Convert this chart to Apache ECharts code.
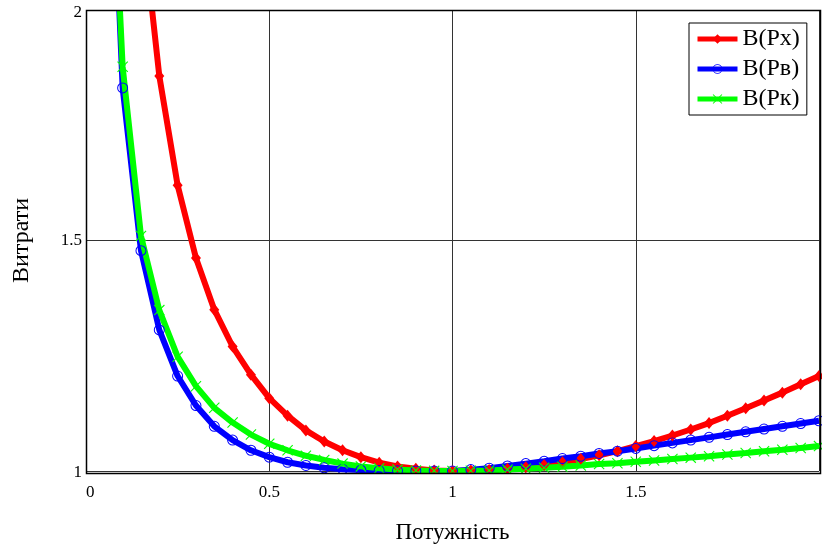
<!DOCTYPE html>
<html>
<head>
<meta charset="utf-8">
<script src="https://cdn.jsdelivr.net/npm/echarts@6/dist/echarts.min.js"></script>
<style>
  body { margin: 0; background: #fff; }
  #chart { width: 822px; height: 549px; }
</style>
</head>
<body>
<div id="chart"></div>
<script>
// потужність (відносна), крок 0.05
const power = [0.05, 0.1, 0.15, 0.2, 0.25, 0.3, 0.35, 0.4, 0.45, 0.5,
  0.55, 0.6, 0.65, 0.7, 0.75, 0.8, 0.85, 0.9, 0.95, 1.0,
  1.05, 1.1, 1.15, 1.2, 1.25, 1.3, 1.35, 1.4, 1.45, 1.5,
  1.55, 1.6, 1.65, 1.7, 1.75, 1.8, 1.85, 1.9, 1.95, 2.0];

const costX = [null, null, 2.22, 1.857, 1.62, 1.462, 1.35, 1.27, 1.209, 1.158,
  1.12, 1.088, 1.064, 1.045, 1.03, 1.018, 1.01, 1.005, 1.001, 1.0,
  1.001, 1.002, 1.005, 1.008, 1.013, 1.019, 1.026, 1.034, 1.043, 1.054,
  1.065, 1.077, 1.09, 1.104, 1.12, 1.136, 1.153, 1.17, 1.188, 1.206];

const costV = [2.75, 1.831, 1.478, 1.306, 1.206, 1.142, 1.097, 1.067, 1.045, 1.03,
  1.019, 1.012, 1.007, 1.004, 1.002, 1.001, 1.0005, 1.0002, 1.0, 1.0,
  1.003, 1.006, 1.011, 1.016, 1.021, 1.027, 1.032, 1.038, 1.043, 1.049,
  1.055, 1.061, 1.067, 1.073, 1.079, 1.085, 1.091, 1.097, 1.103, 1.109];

const costK = [2.71, 1.877, 1.51, 1.349, 1.248, 1.184, 1.137, 1.105, 1.079, 1.059,
  1.045, 1.033, 1.024, 1.016, 1.01, 1.006, 1.003, 1.001, 1.0003, 1.0,
  1.0005, 1.001, 1.003, 1.005, 1.007, 1.009, 1.012, 1.015, 1.017, 1.02,
  1.023, 1.026, 1.029, 1.032, 1.036, 1.039, 1.043, 1.046, 1.05, 1.054];

const names = ["В(Рх)", "В(Рв)", "В(Рк)"];
const font = "'Liberation Serif', 'DejaVu Serif', serif";

const ring = "path://M0,-5A5,5 0 1,1 0,5A5,5 0 1,1 0,-5ZM0,-4.1A4.1,4.1 0 1,0 0,4.1A4.1,4.1 0 1,0 0,-4.1Z";
const cross = "path://M0,0.7L0.7,0L5,4.3L9.3,0L10,0.7L5.7,5L10,9.3L9.3,10L5,5.7L0.7,10L0,9.3L4.3,5Z";

const pairs = (vals) => power.map((p, i) => [p, vals[i]]);

const lineSeries = (name, vals, color, symbol, size) => ({
  name,
  type: "line",
  data: pairs(vals),
  symbol,
  symbolSize: size,
  lineStyle: { width: 6, color },
  itemStyle: { color },
  emphasis: { disabled: true }
});

const chart = echarts.init(document.getElementById("chart"));
chart.setOption({
  animation: false,
  backgroundColor: "#fff",
  grid: { left: 86, right: 1, top: 10, bottom: 75 },
  legend: {
    orient: "vertical",
    left: 689,
    top: 23,
    padding: [4, 7, 4, 6],
    itemWidth: 40,
    itemHeight: 12,
    itemGap: 6,
    backgroundColor: "#fff",
    borderColor: "#000",
    borderWidth: 1,
    lineStyle: { width: 5 },
    textStyle: { fontFamily: font, fontSize: 24, color: "#000", lineHeight: 24 },
    data: names
  },
  xAxis: {
    type: "value",
    min: 0,
    max: 2,
    interval: 0.5,
    name: "Потужність",
    nameLocation: "middle",
    nameGap: 50,
    nameTextStyle: { fontFamily: font, fontSize: 23, color: "#000" },
    axisLine: { show: false },
    axisTick: { show: false },
    axisLabel: {
      margin: 13,
      fontFamily: font,
      fontSize: 17,
      color: "#000",
      alignMinLabel: "left",
      formatter: (v) => (v === 2 ? "" : String(v))
    },
    splitLine: { show: true, lineStyle: { color: "#333", width: 1 } }
  },
  yAxis: {
    type: "value",
    min: 1,
    max: 2,
    interval: 0.5,
    name: "Витрати",
    nameLocation: "middle",
    nameGap: 52,
    nameTextStyle: { fontFamily: font, fontSize: 24, color: "#000" },
    axisLine: { show: false },
    axisTick: { show: false },
    axisLabel: {
      margin: 4,
      fontFamily: font,
      fontSize: 17,
      color: "#000",
      formatter: (v) => (v === 2 ? "{t|2}" : v === 1 ? "{b|1}" : String(v)),
      rich: {
        t: { fontFamily: font, fontSize: 17, color: "#000", padding: [6, 0, 0, 0] },
        b: { fontFamily: font, fontSize: 17, color: "#000", padding: [4, 0, 0, 0] }
      }
    },
    splitLine: { show: true, lineStyle: { color: "#333", width: 1 } }
  },
  series: [
    lineSeries(names[0], costX, "#ff0000", "diamond", [10, 12]),
    lineSeries(names[1], costV, "#0000ff", ring, 11),
    lineSeries(names[2], costK, "#00ff00", cross, 11)
  ],
  graphic: [
    // cut the thick lines at the plot frame, like the original
    { type: "rect", z: 100, shape: { x: 86, y: 0, width: 736, height: 10 }, style: { fill: "#fff" } },
    { type: "rect", z: 100, shape: { x: 86, y: 474, width: 736, height: 7 }, style: { fill: "#fff" } },
    { type: "rect", z: 101, shape: { x: 86.5, y: 10.5, width: 734, height: 463 }, style: { fill: null, stroke: "#000", lineWidth: 1.5 } }
  ]
});
</script>
</body>
</html>
